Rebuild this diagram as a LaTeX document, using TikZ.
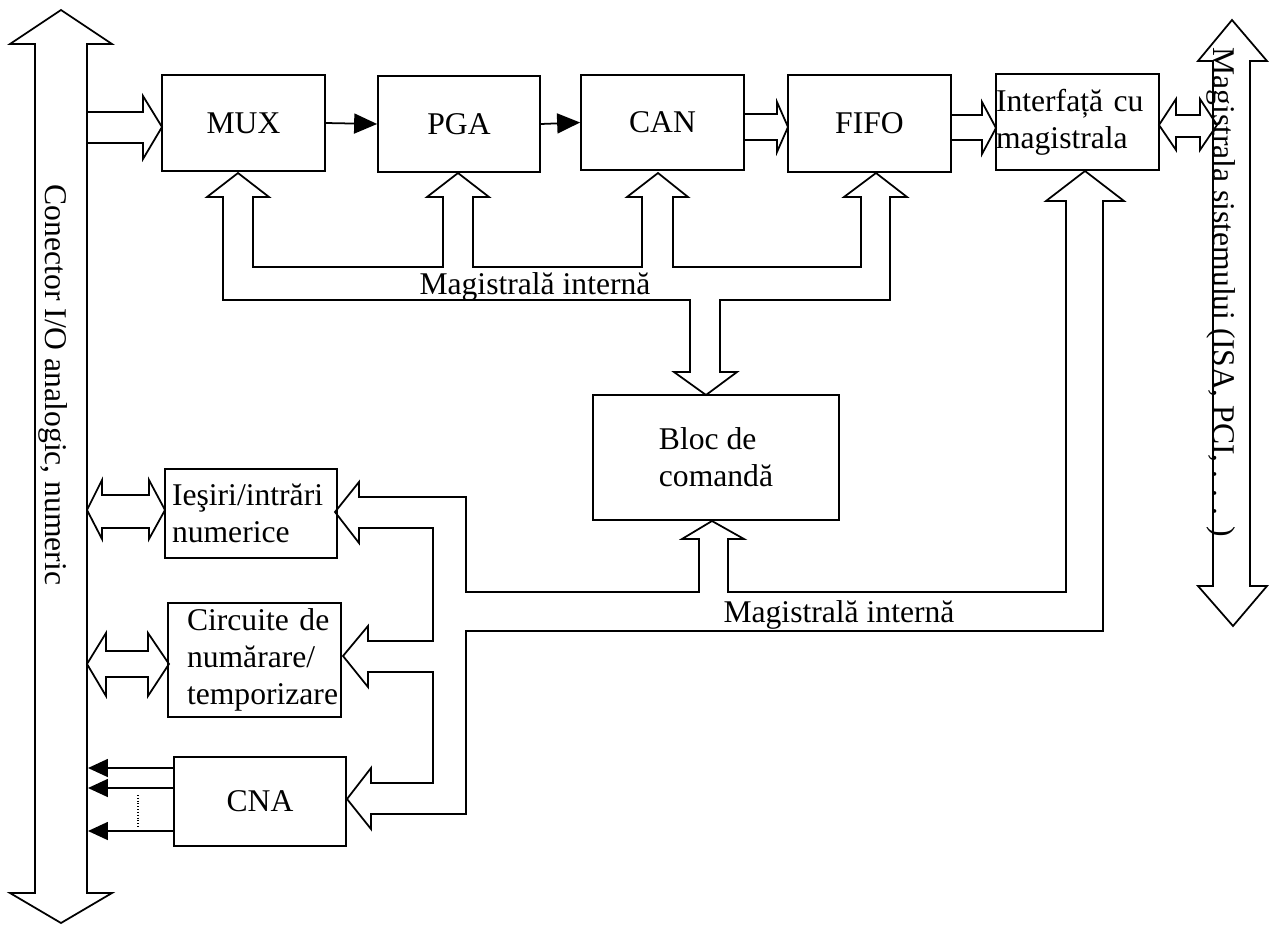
\documentclass[tikz,border=0pt]{standalone}
\usepackage{fontspec}
\setmainfont{Liberation Serif}
\usetikzlibrary{arrows.meta}
\hyphenpenalty=10000

\begin{document}
\begin{tikzpicture}[x=0.02cm, y=-0.02cm, line width=1pt,
    font=\fontsize{18}{21}\selectfont,
    blk/.style={draw, inner sep=0pt, align=center},
    sig/.style={-{Triangle[length=0.46cm, width=0.4cm]}},
    outsig/.style={-{Triangle[length=0.4cm, width=0.36cm]}}]
            \useasboundingbox (0,0) rectangle (1269,924);
            \node [blk, minimum width=3.26cm, minimum height=1.92cm] (mux) at (243.5,123) {MUX};
            \node [blk, minimum width=3.24cm, minimum height=1.92cm] (pga) at (459,124) {PGA};
            \node [blk, minimum width=3.26cm, minimum height=1.9cm] (can) at (662.5,122.5) {CAN};
            \node [blk, minimum width=3.26cm, minimum height=1.94cm] (fifo) at (869.5,123.5) {FIFO};
            \node [blk, minimum width=3.26cm, minimum height=1.92cm, text width=3.26cm, align=left] (intf) at (1077.5,122) {Interfață cu\\magistrala};
            \node [blk, minimum width=4.92cm, minimum height=2.5cm, align=left] (cmd) at (716,457.5) {Bloc de\\comandă};
            \node [blk, minimum width=3.44cm, minimum height=1.78cm, text width=3.16cm, inner xsep=0.14cm, align=left] (io) at (251,513.5) {Ieşiri/intrări\\numerice};
            \node [blk, minimum width=3.46cm, minimum height=2.28cm, text width=2.7cm, inner xsep=0.38cm, align=left] (cnt) at (254.5,660) {\mbox{Circuite de}\\\mbox{numărare/}\\\mbox{temporizare}};
            \node [blk, minimum width=3.44cm, minimum height=1.78cm] (cna) at (260,801.5) {CNA};
            \draw (35,44) -- (10,44) -- (61,10) -- (112,44) -- (87,44) -- (87,893) -- (112,893) -- (61,923) -- (10,893) -- (35,893) -- cycle;
            \node [rotate=-90] (conlbl) at (53,385) {Conector I/O analogic, numeric};
            \draw (1213,61) -- (1198,61) -- (1232,20) -- (1267,61) -- (1250,61) -- (1250,586) -- (1267,586) -- (1233,626) -- (1198,586) -- (1213,586) -- cycle;
            \node [rotate=-90] (syslbl) at (1221,292) {Magistrala sistemului (ISA, PCI, . . . )};
            \draw (87,112) -- (143,112) -- (143,96) -- (162,127) -- (143,159) -- (143,143) -- (87,143);
            \draw (744,114) -- (777,114) -- (777,102) -- (788,127) -- (777,152) -- (777,140) -- (744,140);
            \draw (951,115) -- (982,115) -- (982,102) -- (996,128) -- (982,154) -- (982,140) -- (951,140);
            \draw (1176,115) -- (1200,115) -- (1200,99) -- (1217,125) -- (1200,150) -- (1200,137) -- (1176,137) -- (1176,150) -- (1159,125) -- (1176,99) -- cycle;
            \draw [sig] (mux.east) -- (pga.west);
            \draw [sig] (pga.east) -- (can.west);
            \draw (690,372) -- (690,300) -- (223,300) -- (223,197) -- (207,197) -- (238,173) -- (269,197) -- (253,197) -- (253,267)
                -- (443,267) -- (443,197) -- (427,197) -- (458,173) -- (489,197) -- (473,197) -- (473,267)
                -- (642,267) -- (642,197) -- (627,197) -- (658,173) -- (688,197) -- (673,197) -- (673,267)
                -- (861,267) -- (861,197) -- (844,197) -- (876,173) -- (907,197) -- (890,197) -- (890,300)
                -- (720,300) -- (720,372) -- (737,372) -- (706,395) -- (674,372) -- cycle;
            \node [anchor=base] (bus1) at (535,294) {Magistrală internă};
            \draw (699,539) -- (699,592) -- (466,592) -- (466,497) -- (359,497) -- (359,482) -- (335,512) -- (359,543) -- (359,528)
                -- (433,528) -- (433,641) -- (368,641) -- (368,626) -- (343,656) -- (368,687) -- (368,672)
                -- (433,672) -- (433,783) -- (371,783) -- (371,768) -- (347,799) -- (371,829) -- (371,814)
                -- (466,814) -- (466,631) -- (1103,631) -- (1103,201) -- (1124,201) -- (1085,171) -- (1046,201) -- (1066,201)
                -- (1066,592) -- (728,592) -- (728,539) -- (744,539) -- (712,521) -- (682,539) -- cycle;
            \node [anchor=base] (bus2) at (839,622) {Magistrală internă};
            \draw (102,495) -- (149,495) -- (149,480) -- (165,510) -- (149,539) -- (149,528) -- (102,528) -- (102,539) -- (87,510) -- (102,480) -- cycle;
            \draw (106,651) -- (148,651) -- (148,633) -- (169,664) -- (148,696) -- (148,677) -- (106,677) -- (106,696) -- (87,664) -- (106,633) -- cycle;
            \coordinate (o1) at (88,768);
            \coordinate (o2) at (88,788);
            \coordinate (o3) at (88,831);
            \draw [outsig] (cna.west |- o1) -- (o1);
            \draw [outsig] (cna.west |- o2) -- (o2);
            \draw [outsig] (cna.west |- o3) -- (o3);
            \draw [densely dotted, line width=0.6pt] (138,795) -- (138,827);
        \end{tikzpicture}
\end{document}
